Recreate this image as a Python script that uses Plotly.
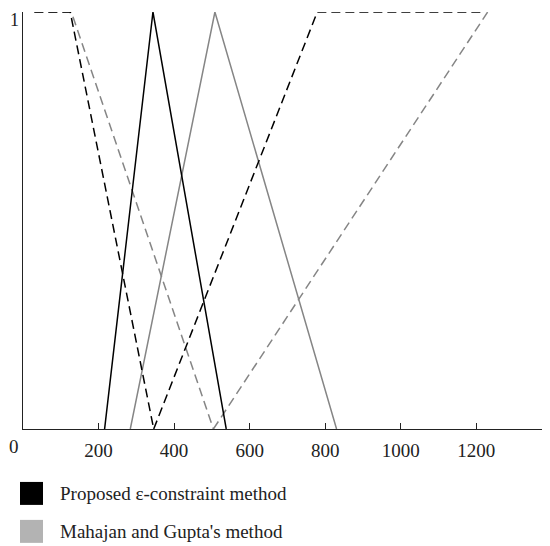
import plotly.graph_objects as go

# Fuzzy membership functions (x values and membership degrees)
prop_left_x = [30, 125, 346]
prop_left_y = [1, 1, 0]
prop_mid_x = [216, 344, 538]
prop_mid_y = [0, 1, 0]
prop_right_x = [346, 779, 1217]
prop_right_y = [0, 1, 1]

mg_left_x = [30, 128, 504]
mg_left_y = [1, 1, 0]
mg_mid_x = [284, 508, 830]
mg_mid_y = [0, 1, 0]
mg_right_x = [504, 1230]
mg_right_y = [0, 1]

x_ticks = [200, 400, 600, 800, 1000, 1200]
legend_labels = ["Proposed \u03b5-constraint method", "Mahajan and Gupta's method"]

BLACK = "#000000"
GRAY = "#858585"
DASH = "9px,5px"
FONT = "Liberation Serif"
FS = 19
TXT = "#222"

# page is offset by the browser's 8px body margin
OFF = 8
FW, FH = 550 - OFF, 546 - OFF
PL, PT, PB = 23, 11.5, 429   # plot area in page pixels
ML = PL - OFF
MT = PT - OFF
MB = FH - (PB - OFF)

fig = go.Figure()

def add(x, y, color, dash):
    fig.add_trace(go.Scatter(x=x, y=y, mode="lines",
                             line=dict(color=color, width=1.5, dash=dash),
                             cliponaxis=False, showlegend=False, hoverinfo="skip"))

add(mg_left_x, mg_left_y, GRAY, DASH)
add(mg_right_x, mg_right_y, GRAY, DASH)
add(mg_mid_x, mg_mid_y, GRAY, "solid")
add(prop_left_x, prop_left_y, BLACK, DASH)
add(prop_right_x, prop_right_y, BLACK, DASH)
add(prop_mid_x, prop_mid_y, BLACK, "solid")

plot_w = FW - ML
plot_h = FH - MT - MB

def px_x(v):  # page px -> paper
    return (v - OFF - ML) / plot_w

def px_y(v):
    return ((PB - OFF) - (v - OFF)) / plot_h

shapes = []
annotations = [
    dict(x=px_x(14), y=px_y(447), xref="paper", yref="paper", text="0",
         showarrow=False, xanchor="center", yanchor="middle",
         font=dict(family=FONT, size=FS, color=TXT)),
    dict(x=px_x(14), y=px_y(8.5), xref="paper", yref="paper", text="1",
         showarrow=False, xanchor="center", yanchor="top", borderpad=0,
         font=dict(family=FONT, size=FS - 1, color=TXT)),
]

for i, (lab, col) in enumerate(zip(legend_labels, ["#000000", "#b3b3b3"])):
    top = 482 + i * 38
    shapes.append(dict(type="rect", xref="paper", yref="paper",
                       x0=px_x(20), x1=px_x(43), y0=px_y(top + 23), y1=px_y(top),
                       fillcolor=col, line=dict(width=0)))
    annotations.append(dict(xref="paper", yref="paper", x=px_x(58), y=px_y(top + 11.5),
                            text=lab, showarrow=False, xanchor="left", yanchor="middle",
                            font=dict(family=FONT, size=FS, color=TXT)))

fig.update_layout(
    width=FW, height=FH,
    margin=dict(l=ML, r=0, t=MT, b=MB, pad=0),
    paper_bgcolor="white", plot_bgcolor="white",
    font=dict(family=FONT, size=FS, color=TXT),
    showlegend=False,
    shapes=shapes, annotations=annotations,
    xaxis=dict(range=[0, 1395], tickvals=x_ticks, ticks="inside", ticklen=6,
               tickcolor=TXT, tickwidth=1.3, showline=True, linecolor=TXT,
               linewidth=1.3, showgrid=False, zeroline=False, automargin=False,
               ticklabelstandoff=4,
               tickfont=dict(family=FONT, size=FS, color=TXT)),
    yaxis=dict(range=[0, 1], showticklabels=False, ticks="",
               showline=True, linecolor=TXT, linewidth=1.3, showgrid=False,
               zeroline=False, automargin=False),
)

fig.write_html("out.html")
